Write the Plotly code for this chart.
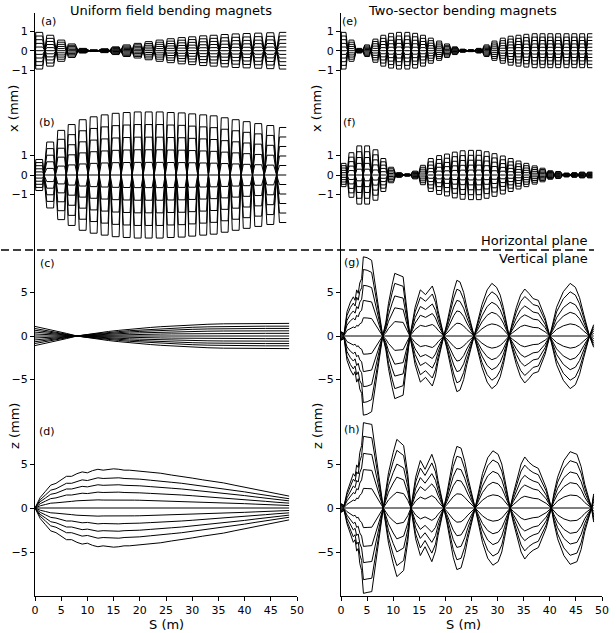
import plotly.graph_objects as go

# ---------------- data ----------------
# horizontal plane: box (half-period) centres along S (m) and envelope amplitude (mm)
CELLS_LEFT = [0.8, 2.9, 5.0, 7.0, 9.1, 11.2, 13.3, 15.4, 17.5, 19.6, 21.7, 23.8,
              25.9, 28.0, 30.0, 32.1, 34.1, 36.2, 38.3, 40.4, 42.6, 44.9, 47.3]
ENV_A = [0.95, 0.8, 0.55, 0.35, 0.12, 0.04, 0.1, 0.2, 0.3, 0.38, 0.47, 0.55,
         0.62, 0.68, 0.72, 0.77, 0.8, 0.84, 0.87, 0.89, 0.91, 0.93, 0.95]
ENV_B = [0.8, 1.7, 2.3, 2.6, 2.85, 3.0, 3.1, 3.18, 3.22, 3.25, 3.25, 3.25,
         3.22, 3.2, 3.15, 3.1, 3.05, 2.95, 2.85, 2.75, 2.65, 2.55, 2.45]

CELLS_RIGHT = [0.5, 2.0, 3.5, 5.0, 6.6, 8.1, 9.6, 11.1, 12.7, 14.2, 15.7, 17.2,
               18.8, 20.3, 21.8, 23.3, 24.9, 26.4, 27.9, 29.4, 31.0, 32.5, 34.0,
               35.5, 37.1, 38.6, 40.1, 41.6, 43.2, 44.7, 46.2, 47.7]
ENV_E = [0.95, 0.55, 0.12, 0.3, 0.6, 0.8, 0.9, 0.95, 0.95, 0.9, 0.8, 0.65,
         0.5, 0.35, 0.2, 0.08, 0.05, 0.12, 0.3, 0.5, 0.65, 0.75, 0.8,
         0.85, 0.88, 0.88, 0.88, 0.88, 0.88, 0.88, 0.88, 0.88]
ENV_F = [0.6, 1.15, 1.5, 1.5, 1.3, 0.85, 0.4, 0.12, 0.06, 0.2, 0.5, 0.85,
         1.0, 1.08, 1.18, 1.25, 1.27, 1.27, 1.2, 1.1, 0.98, 0.85, 0.72,
         0.6, 0.47, 0.35, 0.22, 0.18, 0.1, 0.12, 0.15, 0.15]

FRAC_H = [-1.0, -0.8, -0.6, -0.4, -0.2, 0.0, 0.2, 0.4, 0.6, 0.8, 1.0]

# vertical plane: outer trajectory z (mm) along S (m)
C_S = [0, 2, 4, 6, 8, 10, 12, 14, 16, 18, 20, 22, 24, 26, 28, 30, 33, 36, 40, 44, 48.5]
C_Z = [1.1, 0.85, 0.58, 0.3, 0.0, 0.2, 0.38, 0.52, 0.65, 0.78, 0.88, 0.98, 1.07,
       1.15, 1.22, 1.28, 1.35, 1.4, 1.44, 1.45, 1.45]

D_S = [0, 1, 2, 3, 4, 5, 6, 7, 8, 9, 10, 11, 12, 13, 14, 15, 16, 17, 18, 19, 20,
       22, 24, 26, 28, 30, 32, 34, 36, 38, 40, 42, 44, 46, 48.5]
D_Z = [0, 1.2, 1.9, 2.6, 2.8, 3.2, 3.6, 3.6, 3.9, 4.1, 4.0, 4.25, 4.4, 4.3, 4.35,
       4.45, 4.4, 4.3, 4.3, 4.25, 4.2, 4.05, 3.95, 3.75, 3.6, 3.4, 3.2, 3.05, 2.85,
       2.6, 2.35, 2.1, 1.85, 1.6, 1.35]

G_S = [0, 0.6, 1.15, 1.8, 2.36, 2.7, 3.0, 3.3, 3.6, 3.96, 4.28, 5.0, 5.87, 7.98,
       8.6, 9.1, 9.8, 10.3, 11.9, 12.6, 13.2,
       13.7, 14.2, 15.2, 16.2, 17.5, 18.1, 18.6, 19.7,
       20.3, 20.9, 21.6, 22.2, 22.8, 23.5, 24.1, 25.5,
       26.2, 27.0, 28.0, 28.9, 29.8, 30.5, 31.1, 32.2,
       32.8, 33.6, 34.4, 35.2, 36.0, 36.8, 37.8, 39.1, 40.0,
       40.6, 41.3, 42.6, 43.9, 44.9, 45.7, 46.5, 47.6, 48.4]
G_Z = [0.5, 0.3, 2.8, 3.9, 4.5, 4.1, 5.3, 4.9, 6.1, 6.6, 9.1, 9.0, 8.7, 0.0,
       1.6, 3.75, 5.9, 7.2, 6.8, 3.5, 0.0,
       1.6, 3.3, 5.3, 4.75, 5.75, 4.6, 2.9, 0.0,
       1.5, 3.3, 5.2, 6.4, 6.2, 5.0, 3.3, 0.0,
       1.7, 3.6, 5.3, 6.05, 5.6, 4.7, 3.3, 0.0,
       1.5, 3.3, 4.7, 5.4, 4.9, 4.3, 4.1, 2.1, 0.0,
       1.6, 3.3, 5.1, 6.05, 5.6, 4.4, 2.5, 0.0, 1.3]

H_S = [0, 0.6, 1.15, 1.8, 2.36, 2.7, 3.0, 3.3, 3.6, 3.95, 4.3, 5.0, 5.9, 8.1,
       8.6, 9.1, 10.0, 10.7, 12.0, 12.8, 13.4,
       13.8, 14.3, 15.2, 16.1, 17.4, 18.1, 18.6, 19.7,
       20.3, 20.9, 21.5, 22.2, 23.0, 23.7, 24.3, 25.7,
       26.3, 27.1, 28.1, 29.1, 30.1, 30.8, 31.3, 32.4,
       33.0, 33.8, 34.5, 35.2, 36.0, 36.8, 37.8, 39.3, 40.3,
       40.8, 41.5, 42.7, 43.9, 45.2, 46.0, 46.7, 48.0, 48.4]
H_Z = [0.5, 0.3, 1.8, 3.0, 3.9, 3.6, 4.9, 4.6, 6.3, 7.1, 9.7, 9.6, 9.5, 0.0,
       1.8, 4.0, 6.3, 7.8, 7.1, 3.8, 0.0,
       1.7, 3.5, 5.4, 4.4, 6.1, 4.9, 3.1, 0.0,
       1.7, 3.6, 5.6, 7.0, 6.8, 5.3, 3.5, 0.0,
       1.8, 3.9, 5.7, 6.5, 6.1, 5.0, 3.5, 0.0,
       1.6, 3.5, 5.0, 5.8, 5.2, 4.8, 4.5, 2.3, 0.0,
       1.7, 3.5, 5.4, 6.4, 6.1, 4.7, 2.7, 0.0, 1.6]

FRAC_V_LEFT = [1.0, 0.78, 0.6, 0.41, 0.21, 0.0, -0.21, -0.41, -0.6, -0.78, -1.0]
FRAC_V_RIGHT = [1.0, 0.84, 0.64, 0.45, 0.23, 0.0, -0.23, -0.45, -0.64, -0.84, -1.0]

X_TICKS = [0, 5, 10, 15, 20, 25, 30, 35, 40, 45, 50]
H_TICKS = [-1, 0, 1]
V_TICKS = [-5, 0, 5]

# ---------------- geometry (page pixels; body margin removed) ----------------
W, H = 616, 633
ML, MT = 35, 13
MR = W - 602
MB = H - 596
PW, PH = W - ML - MR, H - MT - MB


def px(x):
    return (x - ML) / PW


def py(y):
    return (H - MB - y) / PH


BLACK = "#000000"
FONT = "DejaVu Sans"

fig = go.Figure()


def box_traj(cells, env, half, xa, ya, start=None):
    xs, ys = [], []
    for f in FRAC_H:
        if start is not None:
            xs.append(start[0])
            ys.append(start[1] * f)
        for k, (c, e) in enumerate(zip(cells, env)):
            sgn = 1 if k % 2 == 0 else -1
            xs += [c - half, c + half]
            ys += [sgn * f * e, sgn * f * e]
        xs.append(None)
        ys.append(None)
    fig.add_trace(go.Scatter(x=xs, y=ys, mode="lines", xaxis=xa, yaxis=ya,
                             line=dict(color=BLACK, width=1), hoverinfo="skip",
                             showlegend=False))


def env_traj(s, z, fracs, xa, ya):
    xs, ys = [], []
    for f in fracs:
        xs += list(s) + [None]
        ys += [f * v for v in z] + [None]
    fig.add_trace(go.Scatter(x=xs, y=ys, mode="lines", xaxis=xa, yaxis=ya,
                             line=dict(color=BLACK, width=1), hoverinfo="skip",
                             showlegend=False))


box_traj(CELLS_LEFT, ENV_A, 0.65, "x", "y", start=(0, -0.95))
box_traj(CELLS_LEFT, ENV_B, 0.65, "x", "y2", start=(0, 0))
env_traj(C_S, C_Z, FRAC_V_LEFT, "x", "y3")
env_traj(D_S, D_Z, FRAC_V_LEFT, "x", "y4")
box_traj(CELLS_RIGHT, ENV_E, 0.45, "x2", "y5", start=(0, -1.0))
box_traj(CELLS_RIGHT, ENV_F, 0.45, "x2", "y6", start=(0, -0.3))
env_traj(G_S, G_Z, FRAC_V_RIGHT, "x2", "y7")
env_traj(H_S, H_Z, FRAC_V_RIGHT, "x2", "y8")

tickfont = dict(family=FONT, size=11, color=BLACK)

xdom_l = [0, px(297)]
xdom_r = [px(341), px(602)]

common_x = dict(range=[0, 50], tickvals=X_TICKS, ticks="outside", ticklen=4,
                showline=True, linecolor=BLACK, linewidth=1, showgrid=False,
                zeroline=False, tickfont=tickfont, tickcolor=BLACK,
                automargin=False, fixedrange=True)

panels = [
    # (domain top px, domain bottom px, zero px, px per mm, ticks)
    (13, 90, 50.7, 19.3, H_TICKS),
    (90, 250, 175, 19.4, H_TICKS),
    (250, 420, 336, 8.7, V_TICKS),
    (420, 596, 508, 8.8, V_TICKS),
]

layout = dict(
    width=W, height=H, margin=dict(l=ML, r=MR, t=MT, b=MB, autoexpand=False),
    paper_bgcolor="white", plot_bgcolor="white", showlegend=False,
    xaxis=dict(domain=xdom_l, anchor="y4", **common_x),
    xaxis2=dict(domain=xdom_r, anchor="y8", **common_x),
)

for col in range(2):
    for i, (top, bot, zero, scale, tv) in enumerate(panels):
        n = col * 4 + i + 1
        key = "yaxis" if n == 1 else f"yaxis{n}"
        layout[key] = dict(
            domain=[py(bot), py(top)],
            range=[-(bot - zero) / scale, (zero - top) / scale],
            anchor="x" if col == 0 else "x2",
            tickvals=tv, ticks="outside", ticklen=4, tickcolor=BLACK,
            showline=True, linecolor=BLACK, linewidth=1, showgrid=False,
            zeroline=False, tickfont=tickfont, automargin=False, fixedrange=True,
        )

fig.update_layout(**layout)

tf = dict(family=FONT, size=13, color=BLACK)
lf = dict(family=FONT, size=11, color=BLACK)
ann = []


def add_text(text, x, y, font, xanchor="center", angle=0):
    ann.append(dict(text=text, x=px(x), y=py(y), xref="paper", yref="paper",
                    showarrow=False, font=font, xanchor=xanchor, yanchor="middle",
                    textangle=angle))


add_text("Uniform field bending magnets", 171, 11, tf)
add_text("Two-sector bending magnets", 462, 11, tf)
add_text("S (m)", 166, 624, tf)
add_text("S (m)", 463, 624, tf)
add_text("Horizontal plane", 590, 240, tf, xanchor="right")
add_text("Vertical plane", 590, 258, tf, xanchor="right")
for lab, x, y in [("(a)", 48, 21), ("(b)", 47, 123), ("(c)", 47, 263), ("(d)", 47, 431),
                  ("(e)", 349, 21), ("(f)", 349, 122), ("(g)", 352, 262), ("(h)", 352, 429)]:
    add_text(lab, x, y, lf)
for x in (14, 317):
    add_text("x (mm)", x, 109, tf, angle=-90)
    add_text("z (mm)", x, 426, tf, angle=-90)

fig.update_layout(annotations=ann)

fig.add_shape(type="line", xref="paper", yref="paper", x0=px(1), x1=px(594),
              y0=py(250), y1=py(250), line=dict(color=BLACK, width=1.5, dash="8px,4px"))

fig.write_html("out.html", config={"displayModeBar": False},
               post_script="document.body.style.margin='0px';"
                           "document.body.style.overflow='hidden';")
